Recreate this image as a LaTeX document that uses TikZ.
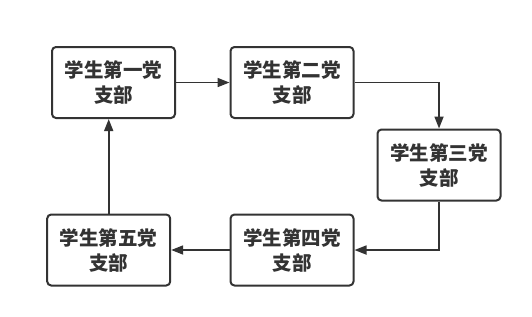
\documentclass[tikz,border=0pt]{standalone}
\usepackage{fontspec}
\newfontfamily\cjk{Noto Sans CJK SC}
\usetikzlibrary{arrows.meta}
\definecolor{ink}{HTML}{333333}

\begin{document}
\begin{tikzpicture}[x=1pt, y=-1pt, ink,
    branch/.style={draw=ink, line width=2pt, rounded corners=4pt, fill=white,
      minimum width=123pt, minimum height=71pt, inner sep=0pt, align=center,
      font=\cjk\bfseries\fontsize{19.5}{25}\selectfont},
    flow/.style={draw=ink, line width=1.7pt, -{Triangle[length=12pt, width=9pt]}},
  ]
% --- Canvas ---------------------------------------------------------------
\useasboundingbox (0,0) rectangle (532,316);

% --- The five branches ----------------------------------------------------
\node[branch] (b1) at (113.5,82.5) {学生第一党\\支部};
\node[branch] (b2) at (292,82.5)   {学生第二党\\支部};
\node[branch] (b3) at (439,165)    {学生第三党\\支部};
\node[branch] (b4) at (292,250)    {学生第四党\\支部};
\node[branch] (b5) at (108.7,250)  {学生第五党\\支部};

% --- The loop round them --------------------------------------------------
\draw[flow] (b1) -- (b2);
\draw[flow] (b2.east) -| (b3.north);
\draw[flow] (b3.south) |- (b4.east);
\draw[flow] (b4) -- (b5);
\draw[flow] (b5.north) -- (b5.north |- b1.south);
\end{tikzpicture}
\end{document}
